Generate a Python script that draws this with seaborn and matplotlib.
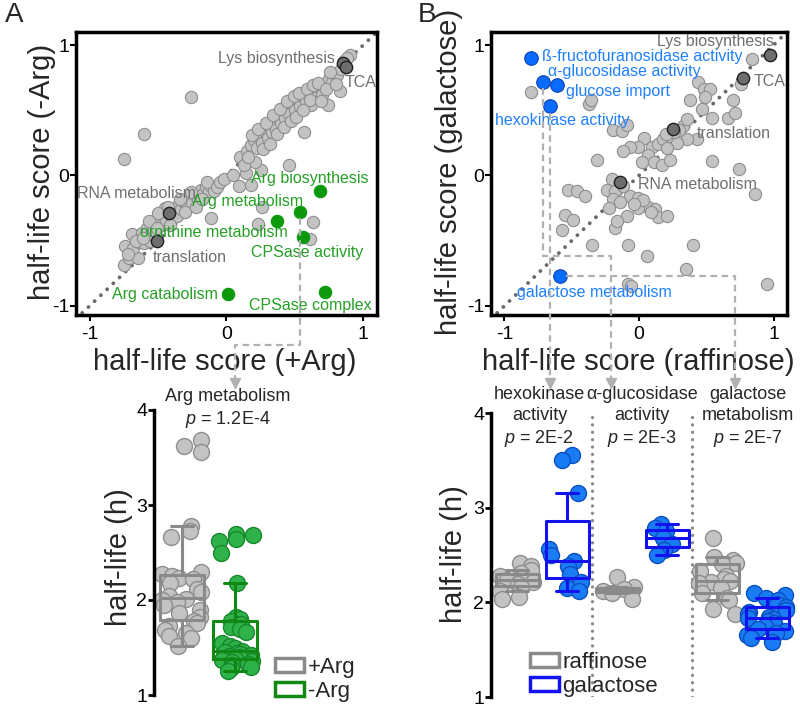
import numpy as np
import pandas as pd
import matplotlib.pyplot as plt
import seaborn as sns
from matplotlib.lines import Line2D
from matplotlib.patches import Patch

# ---- data: half-life scores (x, y) ----
a_gray = [
    (-0.75, -0.69), (-0.71, -0.63), (-0.65, -0.63), (-0.74, -0.54), (-0.68, -0.56), (-0.64, -0.51),
    (-0.69, -0.45), (-0.62, -0.44), (-0.60, -0.52), (-0.56, -0.50), (-0.58, -0.40), (-0.55, -0.45),
    (-0.54, -0.37), (-0.53, -0.42), (-0.49, -0.34), (-0.47, -0.38), (-0.46, -0.30), (-0.44, -0.35),
    (-0.45, -0.25), (-0.40, -0.33), (-0.38, -0.27), (-0.36, -0.31), (-0.35, -0.22), (-0.33, -0.26),
    (-0.31, -0.20), (-0.29, -0.24), (-0.27, -0.17), (-0.25, -0.21), (-0.23, -0.15), (-0.21, -0.19),
    (-0.19, -0.11), (-0.17, -0.14), (-0.15, -0.09), (-0.13, -0.12), (-0.11, -0.08), (-0.09, -0.12),
    (-0.72, -0.60), (-0.66, -0.50), (-0.61, -0.48), (-0.57, -0.35), (-0.51, -0.40), (-0.50, -0.29),
    (-0.43, -0.24), (-0.41, -0.38), (-0.34, -0.18), (-0.30, -0.28), (-0.26, -0.13), (-0.22, -0.24),
    (-0.18, -0.18), (-0.14, -0.05), (-0.07, -0.09),
    (-0.05, -0.05), (-0.02, -0.03), (0.05, 0.00), (0.09, -0.08), (0.14, 0.02), (0.18, -0.07),
    (0.25, 0.04), (0.21, 0.10), (0.10, 0.14), (0.13, 0.08),
    (0.15, 0.19), (0.18, 0.23), (0.20, 0.27), (0.22, 0.21), (0.24, 0.30), (0.26, 0.25), (0.28, 0.34),
    (0.30, 0.29), (0.31, 0.38), (0.33, 0.33), (0.35, 0.41), (0.36, 0.36), (0.38, 0.45), (0.40, 0.40),
    (0.41, 0.48), (0.43, 0.44), (0.45, 0.52), (0.46, 0.47), (0.48, 0.56), (0.50, 0.50), (0.52, 0.58),
    (0.54, 0.53), (0.55, 0.61), (0.58, 0.57), (0.60, 0.62), (0.62, 0.54), (0.64, 0.64), (0.66, 0.60),
    (0.68, 0.67), (0.70, 0.62), (0.72, 0.70), (0.74, 0.54), (0.75, 0.74), (0.77, 0.72), (0.79, 0.78),
    (0.81, 0.77), (0.84, 0.82), (0.90, 0.92), (0.83, 0.65),
    (0.16, 0.14), (0.19, 0.31), (0.23, 0.36), (0.27, 0.20), (0.29, 0.40), (0.32, 0.24), (0.34, 0.46),
    (0.37, 0.32), (0.39, 0.51), (0.42, 0.37), (0.44, 0.57), (0.47, 0.42), (0.49, 0.61), (0.51, 0.45),
    (0.53, 0.63), (0.56, 0.50), (0.59, 0.66), (0.61, 0.58), (0.63, 0.69), (0.67, 0.71), (0.69, 0.57),
    (0.73, 0.66), (0.76, 0.79), (0.80, 0.70), (0.86, 0.88), (0.88, 0.90),
    (-0.26, 0.60), (-0.60, 0.32), (-0.75, 0.13), (0.46, 0.08), (0.57, 0.33),
    (-0.11, -0.33), (0.23, -0.37), (0.26, -0.24), (0.63, -0.36), (0.61, -0.49),
]
a_dark = [(0.85, 0.86), (0.87, 0.83), (-0.42, -0.29), (-0.51, -0.50)]
a_green = [(0.68, -0.12), (0.54, -0.28), (0.37, -0.35), (0.56, -0.47), (0.72, -0.89), (0.01, -0.91)]

b_gray = [
    (-0.80, 0.64), (-0.37, 0.55), (-0.36, 0.58), (-0.19, 0.35), (-0.13, 0.34), (-0.09, 0.39),
    (-0.31, 0.12), (-0.53, -0.11), (-0.46, -0.12), (-0.40, -0.16), (-0.55, -0.30), (-0.49, -0.34),
    (-0.57, -0.42), (-0.35, -0.53), (-0.18, -0.40), (-0.08, -0.53), (0.06, -0.62), (-0.08, -0.83),
    (-0.06, -0.85), (0.40, -0.53), (0.35, -0.72), (0.95, -0.83), (0.86, -0.14), (0.74, 0.05),
    (0.54, 0.11), (0.70, 0.58), (0.66, 0.44), (0.71, 0.48), (0.84, 0.89), (0.76, 0.70),
    (0.44, 0.72), (0.48, 0.66), (0.53, 0.66), (0.49, 0.60), (0.47, 0.51), (0.54, 0.44),
    (0.38, 0.58), (0.33, 0.38), (0.43, 0.28), (0.36, 0.28), (0.30, 0.35), (0.36, 0.43),
    (0.04, 0.29), (-0.01, 0.22), (-0.07, 0.22), (-0.12, 0.19), (0.10, 0.22), (0.14, 0.24),
    (0.18, 0.28), (0.23, 0.30), (0.28, 0.25), (0.21, 0.21), (0.07, 0.16), (0.02, 0.10),
    (0.11, 0.10), (0.17, 0.08), (0.23, 0.12), (0.26, 0.33), (0.20, 0.32),
    (-0.20, -0.03), (-0.24, -0.11), (-0.18, -0.12), (-0.12, -0.08), (-0.07, -0.16), (-0.01, -0.17),
    (-0.19, -0.18), (-0.14, -0.20), (0.07, -0.24), (-0.01, -0.25), (0.12, -0.26), (-0.09, -0.31),
    (-0.16, -0.35), (0.14, -0.32), (0.21, -0.31), (0.03, -0.19), (0.09, -0.28), (-0.04, -0.22),
    (-0.22, -0.25),
]
b_dark = [(0.97, 0.92), (0.77, 0.75), (0.25, 0.36), (-0.14, -0.05)]
b_blue = [(-0.80, 0.90), (-0.71, 0.72), (-0.61, 0.69), (-0.66, 0.53), (-0.59, -0.77)]

# ---- data: half-lives (h) ----
arg_plus = [3.68, 3.62, 3.56, 2.78, 2.73, 2.66, 2.30, 2.27, 2.25, 2.23, 2.22, 2.18, 2.12, 2.08,
            2.04, 2.01, 2.00, 1.98, 1.95, 1.90, 1.86, 1.82, 1.78, 1.76, 1.73, 1.68, 1.65, 1.62,
            1.60, 1.52]
arg_minus = [2.70, 2.68, 2.64, 2.62, 2.49, 2.18, 1.82, 1.80, 1.78, 1.75, 1.72, 1.70, 1.66,
             1.55, 1.52, 1.50, 1.46, 1.45, 1.44, 1.43, 1.42, 1.41, 1.40, 1.39, 1.38, 1.37,
             1.36, 1.35, 1.33, 1.32, 1.30, 1.28, 1.25]
hex_raf = [2.42, 2.38, 2.34, 2.31, 2.28, 2.26, 2.24, 2.23, 2.21, 2.19, 2.16, 2.12, 2.06, 2.03]
hex_gal = [3.56, 3.50, 3.15, 2.56, 2.50, 2.44, 2.38, 2.30, 2.22, 2.15, 2.12]
agl_raf = [2.27, 2.16, 2.14, 2.12, 2.10, 2.04]
agl_gal = [2.83, 2.78, 2.75, 2.68, 2.62, 2.55, 2.50]
gal_raf = [2.68, 2.48, 2.45, 2.42, 2.40, 2.33, 2.28, 2.25, 2.23, 2.22, 2.20, 2.15, 2.10, 2.05,
           2.02, 1.93, 1.88]
gal_gal = [2.10, 2.08, 2.05, 2.02, 1.98, 1.95, 1.92, 1.90, 1.88, 1.85, 1.83, 1.82, 1.80, 1.78,
           1.75, 1.72, 1.70, 1.68, 1.65, 1.62, 1.58]

sns.set_style("white")
plt.rcParams['font.family'] = ['Liberation Sans', 'DejaVu Sans']
plt.rcParams['axes.unicode_minus'] = False
plt.rcParams['mathtext.fontset'] = 'custom'
plt.rcParams['mathtext.it'] = 'Liberation Sans:italic'
plt.rcParams['mathtext.rm'] = 'Liberation Sans'

GRAY_FC, GRAY_EC = '#c3c3c3', '#8e8e8e'
DARK_FC, DARK_EC = '#6e6e6e', '#1e1e1e'
GREEN = '#0c990c'
BLUE_FC, BLUE_EC = '#0a6cff', '#0a3fb0'
LBL_GRAY, LBL_GREEN, LBL_BLUE = '#6f6f6f', '#25a025', '#1f80ff'
BOX_GRAY, BOX_GREEN, BOX_BLUE = '#8a8a8a', '#118811', '#1212ee'
PT_GREEN_FC, PT_GREEN_EC = '#2fb24a', '#16882c'
PT_BLUE_FC, PT_BLUE_EC = '#1a7cf5', '#0a4fc0'
DASH = '#b0b0b0'

fig = plt.figure(figsize=(8, 7.08), dpi=100)
axA = fig.add_axes([76/800, 1-315/708, 301/800, 283/708])
axB = fig.add_axes([491/800, 1-315/708, 296/800, 283/708])
axA2 = fig.add_axes([154/800, 1-695/708, 229/800, 285/708])
axB2 = fig.add_axes([491/800, 1-697/708, 306/800, 284/708])


def scatter_panel(ax, gray, dark, hi, hi_fc, hi_ec, hi_s):
    ax.plot([-1.1, 1.1], [-1.1, 1.1], ls=(0, (0.01, 2.2)), lw=2.8, color='#6a6a6a',
            dash_capstyle='round', zorder=1)
    g = np.array(gray)
    sns.scatterplot(x=g[:, 0], y=g[:, 1], s=78, color=GRAY_FC, edgecolor=GRAY_EC,
                    linewidth=0.8, ax=ax, zorder=2)
    d = np.array(dark)
    sns.scatterplot(x=d[:, 0], y=d[:, 1], s=78, color=DARK_FC, edgecolor=DARK_EC,
                    linewidth=1.0, ax=ax, zorder=3)
    h = np.array(hi)
    sns.scatterplot(x=h[:, 0], y=h[:, 1], s=hi_s, color=hi_fc, edgecolor=hi_ec,
                    linewidth=0.8, ax=ax, zorder=4)
    ax.set_xlim(-1.1, 1.1)
    ax.set_ylim(-1.07, 1.1)
    ax.set_xticks([-1, 0, 1])
    ax.set_yticks([-1, 0, 1])
    ax.tick_params(labelsize=14, length=4, width=1.5, colors='black', pad=1,
                   bottom=True, left=True)
    ax.tick_params(axis='x', pad=4)
    for s in ax.spines.values():
        s.set_linewidth(2.5)
        s.set_color('black')
    ax.set_xlabel('')
    ax.set_ylabel('')


scatter_panel(axA, a_gray, a_dark, a_green, GREEN, GREEN, 80)
scatter_panel(axB, b_gray, b_dark, b_blue, BLUE_FC, BLUE_EC, 95)

lab = dict(fontsize=11.5, va='center', zorder=5)
axA.text(0.79, 0.90, 'Lys biosynthesis', ha='right', color=LBL_GRAY, **lab)
axA.text(0.86, 0.71, 'TCA', ha='left', color=LBL_GRAY, **lab)
axA.text(-1.09, -0.14, 'RNA metabolism', ha='left', color=LBL_GRAY, **lab)
axA.text(-0.54, -0.63, 'translation', ha='left', color=LBL_GRAY, **lab)
axA.text(1.04, -0.02, 'Arg biosynthesis', ha='right', color=LBL_GREEN, **lab)
axA.text(0.56, -0.20, 'Arg metabolism', ha='right', color=LBL_GREEN, **lab)
axA.text(0.45, -0.44, 'ornithine metabolism', ha='right', color=LBL_GREEN, **lab)
axA.text(1.00, -0.59, 'CPSase activity', ha='right', color=LBL_GREEN, **lab)
axA.text(-0.06, -0.91, 'Arg catabolism', ha='right', color=LBL_GREEN, **lab)
axA.text(1.06, -1.00, 'CPSase complex', ha='right', color=LBL_GREEN, **lab)

axB.text(1.00, 1.03, 'Lys biosynthesis', ha='right', color=LBL_GRAY, **lab)
axB.text(0.85, 0.72, 'TCA', ha='left', color=LBL_GRAY, **lab)
axB.text(0.43, 0.32, 'translation', ha='left', color=LBL_GRAY, **lab)
axB.text(-0.01, -0.07, 'RNA metabolism', ha='left', color=LBL_GRAY, **lab)
axB.text(-0.72, 0.91, 'ß-fructofuranosidase activity', ha='left', color=LBL_BLUE, **lab)
axB.text(-0.68, 0.80, 'α-glucosidase activity', ha='left', color=LBL_BLUE, **lab)
axB.text(-0.54, 0.64, 'glucose import', ha='left', color=LBL_BLUE, **lab)
axB.text(-1.07, 0.42, 'hexokinase activity', ha='left', color=LBL_BLUE, **lab)
axB.text(-0.91, -0.90, 'galactose metabolism', ha='left', color=LBL_BLUE, **lab)

axA.text(0.495, -0.165, 'half-life score (+Arg)', transform=axA.transAxes, ha='center',
         va='center', fontsize=21)
axA.text(-0.113, 0.505, 'half-life score (-Arg)', transform=axA.transAxes, ha='center',
         va='center', rotation=90, fontsize=21)
axB.text(0.497, -0.165, 'half-life score (raffinose)', transform=axB.transAxes, ha='center',
         va='center', fontsize=21)
axB.text(-0.142, 0.505, 'half-life score (galactose)', transform=axB.transAxes, ha='center',
         va='center', rotation=90, fontsize=21)

# ---- box plots ----
np.random.seed(4)
orderA = ['+Arg', '-Arg']
seriesA = [('+Arg', arg_plus, GRAY_FC, GRAY_EC, BOX_GRAY),
           ('-Arg', arg_minus, PT_GREEN_FC, PT_GREEN_EC, BOX_GREEN)]
for name, vals, fc, ec, bc in seriesA:
    sns.stripplot(x=[name] * len(vals), y=vals, order=orderA, color=fc, edgecolor=ec,
                  linewidth=1, size=11.5, jitter=0.38, ax=axA2, zorder=2)
for name, vals, fc, ec, bc in seriesA:
    sns.boxplot(x=[name] * len(vals), y=vals, order=orderA, color=bc, fill=False,
                width=0.82, linewidth=2.2, whis=1.5, showfliers=False, ax=axA2, zorder=4)

orderB = ['hex_raf', 'hex_gal', 'agl_raf', 'agl_gal', 'gal_raf', 'gal_gal']
seriesB = [('hex_raf', hex_raf, False), ('hex_gal', hex_gal, True),
           ('agl_raf', agl_raf, False), ('agl_gal', agl_gal, True),
           ('gal_raf', gal_raf, False), ('gal_gal', gal_gal, True)]
for name, vals, gal in seriesB:
    fc, ec = (PT_BLUE_FC, PT_BLUE_EC) if gal else (GRAY_FC, GRAY_EC)
    sns.stripplot(x=[name] * len(vals), y=vals, order=orderB, color=fc, edgecolor=ec,
                  linewidth=1, size=11.5, jitter=0.4, ax=axB2, zorder=2)
for name, vals, gal in seriesB:
    sns.boxplot(x=[name] * len(vals), y=vals, order=orderB,
                color=BOX_BLUE if gal else BOX_GRAY, fill=False, width=0.86,
                linewidth=2.2, whis=0.5, showfliers=False, ax=axB2, zorder=4)

for ax in (axA2, axB2):
    ax.set_ylim(1, 4)
    ax.set_yticks([1, 2, 3, 4])
    ax.set_xticks([])
    ax.set_xlabel('')
    ax.set_ylabel('')
    for side in ('top', 'right', 'bottom'):
        ax.spines[side].set_visible(False)
    ax.spines['left'].set_linewidth(2.5)
    ax.spines['left'].set_color('black')
    ax.tick_params(axis='y', left=True, labelsize=14, length=4, width=2, colors='black', pad=1)
    ax.patch.set_alpha(0)
axA2.set_xlim(-0.53, 3.8)
axB2.set_xlim(-0.52, 5.6)
for xv in (1.5, 3.5):
    axB2.axvline(xv, ls=(0, (0.01, 2.2)), lw=2.4, color='#8a8a8a', dash_capstyle='round',
                 zorder=0)

axA2.text(0.87, 4.01, 'Arg metabolism\n$p$ = 1.2E-4', ha='center', va='center',
          fontsize=13, linespacing=1.25, clip_on=False)
axB2.text(0.45, 3.95, 'hexokinase\nactivity\n$p$ = 2E-2', ha='center', va='center',
          fontsize=13, linespacing=1.3, clip_on=False)
axB2.text(2.5, 3.95, 'α-glucosidase\nactivity\n$p$ = 2E-3', ha='center', va='center',
          fontsize=13, linespacing=1.3, clip_on=False)
axB2.text(4.62, 3.95, 'galactose\nmetabolism\n$p$ = 2E-7', ha='center', va='center',
          fontsize=13, linespacing=1.3, clip_on=False)

axA2.text(-0.153, 0.484, 'half-life (h)', transform=axA2.transAxes, ha='center',
          va='center', rotation=90, fontsize=21)
axB2.text(-0.121, 0.502, 'half-life (h)', transform=axB2.transAxes, ha='center',
          va='center', rotation=90, fontsize=21)

leg_kw = dict(frameon=False, fontsize=16, handlelength=1.3, handleheight=0.6,
              handletextpad=0.15, labelspacing=0.15, borderpad=0, borderaxespad=0,
              loc='lower left')
axA2.legend(handles=[Patch(facecolor='none', edgecolor=BOX_GRAY, lw=2.5, label='+Arg'),
                     Patch(facecolor='none', edgecolor=BOX_GREEN, lw=2.5, label='-Arg')],
            bbox_to_anchor=(0.53, -0.025), **leg_kw)
axB2.legend(handles=[Patch(facecolor='none', edgecolor=BOX_GRAY, lw=2.5, label='raffinose'),
                     Patch(facecolor='none', edgecolor=BOX_BLUE, lw=2.5, label='galactose')],
            bbox_to_anchor=(0.127, 0.0), **leg_kw)


# ---- dashed connectors from scatter to box panels ----
def fpt(ax, x, y):
    return fig.transFigure.inverted().transform(ax.transData.transform((x, y)))


def fy(py):
    return 1 - py / 708


def connector(xs, ys):
    fig.add_artist(Line2D(xs, ys, transform=fig.transFigure, color=DASH, lw=1.6,
                          ls=(0, (3, 2)), zorder=5))
    fig.add_artist(Line2D([xs[-1]], [ys[-1]], transform=fig.transFigure, color=DASH,
                          marker='v', markersize=7, ls='none', zorder=5))


tip = fy(383)
p = fpt(axA, 0.54, -0.33)
tx = fpt(axA2, 1.0, 4)[0]
connector([p[0], p[0], tx, tx], [p[1], fy(345), fy(345), tip])

p = fpt(axB, -0.66, 0.48)
connector([p[0], p[0]], [p[1], tip])

p = fpt(axB, -0.71, 0.67)
q = fpt(axB, -0.71, -0.62)
tx = fpt(axB2, 1.88, 4)[0]
connector([p[0], q[0], tx, tx], [p[1], q[1], q[1], tip])

p = fpt(axB, -0.54, -0.77)
tx = fpt(axB2, 4.36, 4)[0]
connector([p[0], tx, tx], [p[1], p[1], tip])

fig.text(0.006, 0.997, 'A', ha='left', va='top', fontsize=20)
fig.text(0.522, 0.997, 'B', ha='left', va='top', fontsize=20)

fig.savefig('out.png', dpi=100)
